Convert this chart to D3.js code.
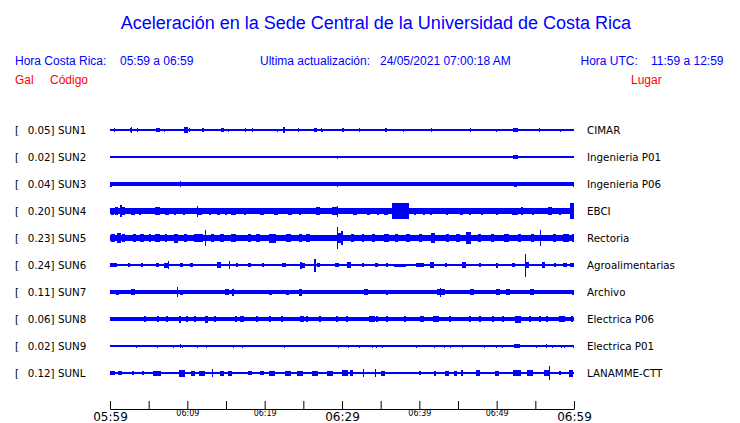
<!DOCTYPE html>
<html>
<head>
<meta charset="utf-8">
<script src="https://cdn.jsdelivr.net/npm/d3@7"></script>
<style>
  html, body { margin: 0; padding: 0; background: #fff; }
  svg { display: block; }
</style>
</head>
<body>
<svg id="chart" width="740" height="423"></svg>
<script>
// ---------------- DATA ----------------
const title = "Aceleración en la Sede Central de la Universidad de Costa Rica";
const codes = ["SUN1","SUN2","SUN3","SUN4","SUN5","SUN6","SUN7","SUN8","SUN9","SUNL"];
const peaks = ["0.05","0.02","0.04","0.20","0.23","0.24","0.11","0.06","0.02","0.12"];
const places = ["CIMAR","Ingenieria P01","Ingenieria P06","EBCI","Rectoria","Agroalimentarias","Archivo","Electrica P06","Electrica P01","LANAMME-CTT"];
// background (noise) amplitude of each trace, Gal
const baseAmp = [0.014, 0.012, 0.036, 0.056, 0.064, 0.024, 0.034, 0.044, 0.012, 0.028];
// bursts: [minutes after 05:59, amplitude (Gal), duration (min)]
const burstsSUN1 = [[0.6,.04,.13],[2.6,.04,.13],[2.8,.06,.13],[3.5,.04,.13],[4.8,.02,.13],[6.2,.04,.5],[7.1,.03,.13],[9.8,.06,.5],[10.3,.04,.13],[12.0,.04,.2],[14.5,.04,.4],[15.3,.03,.13],[17.5,.04,.13],[18.4,.04,.13],[21.6,.03,.13],[22.5,.06,.2],[24.4,.04,.13],[26.6,.04,.4],[27.3,.04,.13],[27.5,.03,.13],[30.1,.04,.26],[32.3,.04,.13],[35.7,.04,.26],[37.9,.03,.13],[41.6,.04,.13],[46.6,.04,.13],[50.0,.03,.13],[52.4,.04,.65],[55.6,.04,.13],[58.2,.03,.13]];
const burstsSUN2 = [[29.4,.03,.13],[33.6,.02,.13],[47.2,.02,.13],[52.4,.04,.65]];
const burstsSUN3 = [[0.1,.05,.2],[9.1,.055,.13],[24.2,.045,.13],[27.0,.045,.13],[29.4,.05,.13],[30.9,.045,.13],[52.4,.05,.4],[59.9,.05,.13]];
const burstsSUN4 = [[0.3,.07,.39],[0.9,.08,.39],[1.4,.12,.2],[1.8,.08,.39],[3.0,.07,.52],[3.9,.07,.26],[6.1,.08,.65],[7.4,.07,.52],[8.4,.07,.26],[9.6,.07,.26],[11.3,.11,.2],[11.6,.07,.52],[12.9,.07,.26],[14.0,.07,.39],[15.0,.07,.26],[16.0,.07,.65],[17.5,.07,.26],[19.7,.07,.52],[21.5,.07,.52],[23.3,.07,.52],[24.6,.07,.26],[26.9,.08,.52],[29.0,.08,.65],[29.4,.11,.2],[31.7,.07,.52],[33.4,.07,.39],[34.7,.07,.26],[35.7,.07,.52],[37.6,.16,2.2],[39.4,.07,.26],[40.6,.07,.26],[41.5,.07,.26],[43.6,.07,.26],[45.5,.07,.39],[46.6,.07,.26],[48.1,.07,.26],[50.0,.07,.26],[52.4,.07,.78],[53.3,.08,.2],[54.7,.07,.26],[56.9,.08,.52],[58.2,.07,.26],[59.7,.16,.52]];
const burstsSUN5 = [[0.4,.08,.52],[1.2,.10,.52],[1.8,.08,.39],[3.2,.08,.39],[4.1,.08,.52],[5.2,.08,.26],[6.2,.08,.65],[7.2,.08,.26],[8.5,.09,.52],[9.7,.08,.39],[11.0,.08,.39],[11.6,.08,.78],[12.3,.16,.15],[13.2,.08,.39],[14.5,.08,.52],[16.0,.08,.65],[18.1,.08,.39],[19.1,.08,.52],[21.0,.09,1.0],[23.1,.08,.65],[24.6,.08,.39],[25.6,.08,.52],[29.4,.22,.2],[29.7,.10,.78],[30.0,.14,.13],[31.4,.08,.39],[32.7,.08,.26],[34.1,.08,.39],[35.8,.08,.65],[37.1,.08,.39],[38.5,.08,.52],[40.1,.08,.39],[41.8,.10,.52],[43.7,.08,.39],[45.0,.08,.39],[46.4,.12,.65],[47.8,.08,.39],[49.5,.08,.39],[51.3,.08,.65],[53.0,.08,.39],[54.6,.08,.39],[55.7,.16,.15],[57.5,.08,.39],[59.0,.08,.78],[59.9,.08,.26]];
const burstsSUN6 = [[0.45,.036,1.0],[2.5,.04,.26],[4.1,.04,.26],[6.1,.04,.39],[7.2,.05,.52],[7.6,.08,.15],[9.2,.04,.39],[10.5,.04,.39],[14.1,.06,.52],[15.5,.08,.15],[16.4,.04,.26],[18.0,.04,.39],[19.8,.04,.26],[22.5,.04,.52],[24.7,.07,.15],[25.0,.05,.52],[26.5,.13,.15],[26.9,.04,.39],[29.4,.04,.52],[30.9,.06,.52],[32.7,.04,.26],[34.5,.04,.39],[35.8,.04,.26],[37.5,.03,1.55],[40.1,.04,1.0],[41.6,.06,.52],[43.4,.04,.26],[45.8,.06,.52],[47.8,.04,.26],[50.0,.05,.26],[52.2,.04,.39],[53.7,.23,.15],[53.9,.06,.52],[56.0,.06,.39],[57.5,.04,.26],[58.8,.04,.52],[59.7,.04,.52]];
const burstsSUN7 = [[1.0,.05,.39],[3.0,.06,.52],[5.2,.04,.39],[8.7,.10,.15],[9.3,.05,.39],[11.3,.04,.26],[12.5,.04,.26],[15.1,.06,.52],[15.9,.07,.26],[17.7,.04,.26],[19.0,.04,.26],[20.7,.05,.39],[22.9,.05,.39],[24.6,.07,.39],[27.4,.04,.26],[31.0,.04,.26],[33.1,.06,.52],[35.8,.05,.26],[37.5,.04,.26],[42.7,.09,.15],[42.8,.06,1.0],[45.3,.04,.26],[46.8,.06,.52],[50.2,.06,.52],[51.5,.06,.52],[54.6,.06,.52],[56.0,.04,.26],[59.9,.05,.26]];
const burstsSUN8 = [[4.5,.06,.26],[6.2,.06,.26],[7.4,.06,.26],[9.1,.07,.26],[10.0,.06,.26],[11.0,.06,.26],[12.5,.07,.39],[13.6,.06,.26],[16.3,.06,.26],[17.1,.06,.52],[19.0,.06,.26],[20.7,.06,.26],[22.2,.06,.26],[24.8,.06,.52],[25.5,.06,.26],[27.2,.06,.26],[29.4,.06,.26],[30.6,.06,.26],[33.9,.06,.78],[34.5,.06,.26],[35.8,.06,.26],[38.1,.06,.26],[40.3,.06,.52],[42.2,.06,.78],[44.0,.06,.26],[46.6,.06,.26],[47.8,.06,.26],[49.5,.06,.26],[50.8,.06,.26],[52.8,.07,.78],[54.3,.06,.26],[55.6,.06,.26],[56.5,.06,.26],[58.4,.06,.78],[59.7,.06,.26]];
const burstsSUN9 = [[3.4,.03,.13],[6.2,.03,.13],[8.2,.03,.13],[9.1,.04,.13],[9.4,.03,.13],[11.3,.03,.13],[12.5,.03,.13],[16.0,.03,.13],[17.1,.03,.13],[22.6,.03,.13],[29.5,.03,.13],[30.8,.03,.13],[32.2,.03,.13],[33.9,.03,.13],[34.5,.03,.13],[35.2,.03,.13],[39.6,.03,.13],[41.9,.03,.13],[43.2,.03,.13],[44.0,.03,.13],[45.6,.03,.13],[48.4,.03,.13],[50.0,.03,.13],[50.7,.03,.13],[52.6,.035,.78],[55.2,.03,.13],[56.5,.035,.13],[57.2,.03,.13],[58.4,.03,.13],[58.8,.03,.13],[59.9,.03,.13]];
const burstsSUNL = [[0.3,.04,.78],[1.3,.04,.52],[3.0,.04,.26],[4.3,.04,.26],[6.1,.05,1.0],[9.3,.07,.78],[10.7,.05,.52],[11.9,.05,.78],[13.2,.08,.15],[14.5,.05,.52],[15.5,.05,.52],[18.1,.04,.52],[19.7,.04,.52],[21.0,.05,.78],[23.0,.05,.78],[24.6,.05,.78],[26.5,.05,.78],[28.5,.05,.78],[30.4,.06,.78],[31.2,.06,.39],[32.8,.08,.15],[34.3,.08,.15],[35.3,.05,.52],[40.1,.04,.26],[42.0,.05,.26],[43.6,.05,.52],[44.7,.05,.39],[45.5,.06,.26],[47.6,.06,.52],[50.0,.05,.52],[52.6,.06,1.0],[54.3,.06,.78],[56.5,.06,.65],[56.8,.14,.15],[58.2,.04,.26],[59.6,.07,.52]];
const bursts = [burstsSUN1, burstsSUN2, burstsSUN3, burstsSUN4, burstsSUN5, burstsSUN6, burstsSUN7, burstsSUN8, burstsSUN9, burstsSUNL];
const tickMinutes = [0,5,10,15,20,25,30,35,40,45,50,55,60];
const tickLabels  = ["05:59","","06:09","","06:19","","06:29","","06:39","","06:49","","06:59"];
const bigTicks = ["05:59","06:29","06:59"];

// ---------------- DRAW ----------------
const svg = d3.select("#chart");
const BLUE = "#0000ff", RED = "#ff0000";

svg.append("text").attr("x", 120.7).attr("y", 29.3)
  .attr("font-family", "Liberation Sans, Arial, sans-serif").attr("font-size", 18)
  .attr("fill", BLUE).text(title);

const hdr = [
  ["Hora Costa Rica:", 15], ["05:59 a 06:59", 120], ["Ultima actualización:", 260],
  ["24/05/2021 07:00:18 AM", 380], ["Hora UTC:", 580.5], ["11:59 a 12:59", 651]
];
svg.selectAll("text.hdr").data(hdr).join("text").attr("class","hdr")
  .attr("x", d => d[1]).attr("y", 65)
  .attr("font-family", "Liberation Sans, Arial, sans-serif").attr("font-size", 12)
  .attr("fill", BLUE).text(d => d[0]);

const red = [["Gal", 15], ["Código", 50], ["Lugar", 631]];
svg.selectAll("text.red").data(red).join("text").attr("class","red")
  .attr("x", d => d[1]).attr("y", 84.3)
  .attr("font-family", "Liberation Sans, Arial, sans-serif").attr("font-size", 12)
  .attr("fill", RED).text(d => d[0]);

const x = d3.scaleLinear().domain([0, 60]).range([110, 574]);
const y = d3.scaleBand().domain(codes).range([116.5, 386.5]);
const amp = d3.scaleLinear().domain([0, 0.26]).range([0, 13]);
const cy = c => y(c) + y.bandwidth() / 2;

const lab = "DejaVu Sans, Verdana, sans-serif";
codes.forEach((c, i) => {
  const g = svg.append("g");
  g.append("text").attr("x", 15).attr("y", cy(c) + 4).attr("font-family", lab)
    .attr("font-size", 10.3).attr("fill", "#000").text("[");
  g.append("text").attr("x", 27.7).attr("y", cy(c) + 4).attr("font-family", lab)
    .attr("font-size", 10.3).attr("fill", "#000").text(peaks[i] + "] " + c);
  g.append("text").attr("x", 587).attr("y", cy(c) + 4).attr("font-family", lab)
    .attr("font-size", 10.3).attr("fill", "#000").text(places[i]);

  const tr = svg.append("g").attr("fill", BLUE).attr("shape-rendering", "crispEdges");
  const hb = Math.max(amp(baseAmp[i]), 0.6);
  tr.append("rect").attr("x", x(0)).attr("width", x(60) - x(0))
    .attr("y", cy(c) - hb).attr("height", 2 * hb);
  tr.selectAll("rect.b").data(bursts[i]).join("rect").attr("class", "b")
    .attr("x", d => x(Math.max(0, d[0] - d[2] / 2)))
    .attr("width", d => Math.max(1, x(Math.min(60, d[0] + d[2] / 2)) - x(Math.max(0, d[0] - d[2] / 2))))
    .attr("y", d => cy(c) - amp(d[1]))
    .attr("height", d => 2 * amp(d[1]));
});

const axis = d3.axisBottom(x).tickValues(tickMinutes).tickSize(-8).tickSizeOuter(0)
  .tickFormat((d, i) => tickLabels[i]);
const ax = svg.append("g").attr("transform", "translate(0,409)").call(axis);
ax.select(".domain").attr("stroke", "#000");
ax.selectAll(".tick line").attr("stroke", "#000");
ax.selectAll(".tick text")
  .attr("font-family", lab).attr("fill", "#000")
  .attr("dy", 0)
  .attr("font-size", d => bigTicks.includes(tickLabels[tickMinutes.indexOf(d)]) ? 12 : 8)
  .attr("y", d => bigTicks.includes(tickLabels[tickMinutes.indexOf(d)]) ? 11.5 : 7);
</script>
</body>
</html>
